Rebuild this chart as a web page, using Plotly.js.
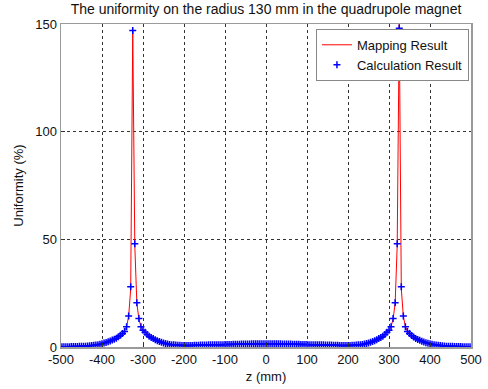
<!DOCTYPE html>
<html>
<head>
<meta charset="utf-8">
<script src="https://cdn.plot.ly/plotly-3.0.1.min.js"></script>
<style>html,body{margin:0;padding:0;background:#fff;}#chart{width:488px;height:389px;}</style>
</head>
<body>
<div id="chart"></div>
<script>
// z positions (mm)
const zPositions = [-500,-495,-490,-485,-480,-475,-470,-465,-460,-455,-450,-445,-440,-435,-430,-425,-420,-415,-410,-405,
-400,-395,-390,-385,-380,-375,-370,-365,-360,-355,-350,-345,-340,-335,-330,-325,-320,-315,-310,-305,
-300,-295,-290,-285,-280,-275,-270,-265,-260,-255,-250,-245,-240,-235,-230,-225,-220,-215,-210,-205,
-200,-195,-190,-185,-180,-175,-170,-165,-160,-155,-150,-145,-140,-135,-130,-125,-120,-115,-110,-105,
-100,-95,-90,-85,-80,-75,-70,-65,-60,-55,-50,-45,-40,-35,-30,-25,-20,-15,-10,-5,
0,5,10,15,20,25,30,35,40,45,50,55,60,65,70,75,80,85,90,95,
100,105,110,115,120,125,130,135,140,145,150,155,160,165,170,175,180,185,190,195,
200,205,210,215,220,225,230,235,240,245,250,255,260,265,270,275,280,285,290,295,
300,305,310,315,320,325,330,335,340,345,350,355,360,365,370,375,380,385,390,395,
400,405,410,415,420,425,430,435,440,445,450,455,460,465,470,475,480,485,490,495,500];

// Calculation result uniformity (%)
const calculationResult = [0.1,0.1,0.1,0.15,0.15,0.2,0.2,0.25,0.25,0.3,0.3,0.35,0.4,0.45,0.55,0.65,0.8,0.9,1.1,1.3,
1.5,1.8,2.1,2.4,2.8,3.2,3.6,4.1,4.8,5.5,6.3,7.2,9.4,14.4,28,147,48,20.5,13.2,9.4,
7.8,6.8,5.8,5.0,4.4,3.9,3.4,2.9,2.5,2.2,1.9,1.6,1.4,1.2,1.1,1.0,0.9,0.8,0.8,0.7,
0.7,0.7,0.7,0.7,0.7,0.8,0.8,0.8,0.9,0.9,0.9,0.9,1.0,1.0,1.0,1.0,1.1,1.1,1.1,1.1,
1.2,1.2,1.2,1.2,1.3,1.3,1.3,1.3,1.4,1.4,1.4,1.4,1.4,1.5,1.5,1.5,1.5,1.5,1.5,1.5,
1.5,1.5,1.5,1.5,1.5,1.5,1.5,1.5,1.4,1.4,1.4,1.4,1.4,1.3,1.3,1.3,1.3,1.2,1.2,1.2,
1.2,1.1,1.1,1.1,1.1,1.0,1.0,1.0,1.0,0.9,0.9,0.9,0.9,0.8,0.8,0.8,0.7,0.7,0.7,0.7,
0.7,0.7,0.8,0.8,0.9,1.0,1.1,1.2,1.4,1.6,1.9,2.2,2.5,2.9,3.4,3.9,4.4,5.0,5.8,6.8,
7.8,9.4,13.2,20.5,48,148,28,14.4,9.4,7.2,6.3,5.3,4.6,4.0,3.5,3.1,2.7,2.3,2.0,1.7,
1.5,1.3,1.1,0.9,0.8,0.65,0.55,0.45,0.4,0.35,0.3,0.3,0.25,0.25,0.2,0.2,0.15,0.15,0.1,0.1,0.1];

// Mapping result uniformity (%)
const mappingResult = [0.1,0.1,0.1,0.15,0.15,0.2,0.2,0.25,0.25,0.3,0.3,0.35,0.4,0.45,0.55,0.65,0.8,0.9,1.1,1.3,
1.5,1.8,2.1,2.4,2.8,3.2,3.6,4.1,4.8,5.5,6.3,7.3,9.5,14.2,27,147,47,20.3,13.0,9.5,
7.9,6.8,5.8,5.0,4.4,3.9,3.4,2.9,2.5,2.2,1.9,1.6,1.4,1.2,1.1,1.0,0.9,0.8,0.8,0.7,
0.7,0.7,0.7,0.7,0.7,0.8,0.8,0.8,0.9,0.9,0.9,0.9,1.0,1.0,1.0,1.0,1.1,1.1,1.1,1.1,
1.2,1.2,1.2,1.2,1.3,1.3,1.3,1.3,1.4,1.4,1.4,1.4,1.4,1.5,1.5,1.5,1.5,1.5,1.5,1.5,
1.5,1.5,1.5,1.5,1.5,1.5,1.5,1.5,1.4,1.4,1.4,1.4,1.4,1.3,1.3,1.3,1.3,1.2,1.2,1.2,
1.2,1.1,1.1,1.1,1.1,1.0,1.0,1.0,1.0,0.9,0.9,0.9,0.9,0.8,0.8,0.8,0.7,0.7,0.7,0.7,
0.7,0.7,0.8,0.8,0.9,1.0,1.1,1.2,1.4,1.6,1.9,2.2,2.5,2.9,3.4,3.9,4.4,5.0,5.8,6.8,
7.9,9.5,13.0,20.3,47,150,27,14.2,9.5,7.3,6.3,5.3,4.6,4.0,3.5,3.1,2.7,2.3,2.0,1.7,
1.5,1.3,1.1,0.9,0.8,0.65,0.55,0.45,0.4,0.35,0.3,0.3,0.25,0.25,0.2,0.2,0.15,0.15,0.1,0.1,0.1];

const xTicks = [-500,-400,-300,-200,-100,0,100,200,300,400,500];
const yTicks = [0,50,100,150];

const font = "Liberation Sans, Arial, sans-serif";

const traces = [
  {
    x: zPositions, y: mappingResult, type: 'scatter', mode: 'lines',
    name: 'Mapping Result',
    line: {color: '#ff0000', width: 1}
  },
  {
    x: zPositions, y: calculationResult, type: 'scatter', mode: 'markers',
    name: 'Calculation Result',
    marker: {symbol: 'cross-thin', size: 5, color: '#0000ff', line: {color: '#0000ff', width: 1.5}}
  }
];

const axisCommon = {
  showline: true, mirror: true, linecolor: '#9a9a9a', linewidth: 1.5,
  showgrid: true, gridcolor: '#333', griddash: 'dot', gridwidth: 1,
  zeroline: false, ticks: 'inside', ticklen: 4, tickcolor: '#333',
  tickfont: {family: font, size: 13, color: '#111'}
};

const layout = {
  width: 488, height: 389,
  margin: {l: 61, r: 17, t: 24, b: 42},
  paper_bgcolor: '#fff', plot_bgcolor: '#fff',
  showlegend: true,
  title: {text: 'The uniformity on the radius 130 mm in the quadrupole magnet',
          font: {family: font, size: 14, color: '#111'}, xref: 'paper', x: 0.5, xanchor: 'center', y: 0.988, yanchor: 'top'},
  xaxis: Object.assign({}, axisCommon, {
    range: [-500, 500], tickvals: xTicks, ticktext: xTicks.map(String),
    title: {text: 'z (mm)', font: {family: font, size: 13, color: '#111'}, standoff: 6}
  }),
  yaxis: Object.assign({}, axisCommon, {
    range: [0, 150], tickvals: yTicks, ticktext: yTicks.map(String),
    title: {text: 'Uniformity (%)', font: {family: font, size: 13, color: '#111'}, standoff: 8}
  }),
  legend: {
    x: 0.995, xanchor: 'right', y: 0.985, yanchor: 'top',
    bgcolor: '#fff', bordercolor: '#888', borderwidth: 1,
    font: {family: font, size: 13, color: '#111'},
    tracegroupgap: 0, itemwidth: 30
  }
};

Plotly.newPlot('chart', traces, layout, {displayModeBar: false, staticPlot: true});
</script>
</body>
</html>
